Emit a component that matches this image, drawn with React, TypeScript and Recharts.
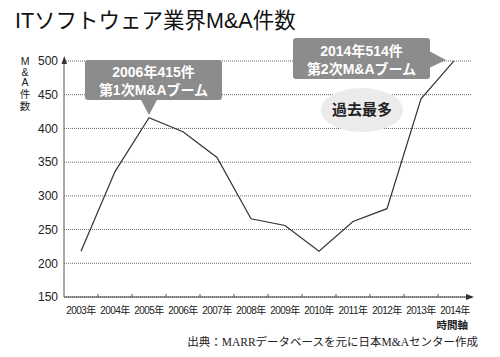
import React from 'react';
import { LineChart, Line, XAxis, YAxis, CartesianGrid } from 'recharts';

const years = ['2003年', '2004年', '2005年', '2006年', '2007年', '2008年', '2009年', '2010年', '2011年', '2012年', '2013年', '2014年'];
const counts = [218, 336, 416, 395, 357, 266, 256, 218, 262, 281, 444, 502];
const yTicks = [150, 200, 250, 300, 350, 400, 450, 500];

const data = years.map((y, i) => ({ year: y, count: counts[i] }));

const SANS = '"Liberation Sans", Arial, "Noto Sans CJK JP", sans-serif';

const XTick = (props: any) => {
  const { x, y, payload, index } = props;
  const off = payload && payload.offset ? payload.offset : 17;
  return (
    <g>
      {index > 0 && <line x1={x - off} x2={x - off} y1={y} y2={y - 3} stroke="#555" strokeWidth={1} />}
      <text x={x} y={y + 17} textAnchor="middle" fontSize={10} letterSpacing={-0.5} fill="#222" fontFamily={SANS}>
        {payload.value}
      </text>
    </g>
  );
};

export default function App() {
  return (
    <div style={{ position: 'absolute', left: 0, top: 0, width: 500, height: 357, background: '#fff' }}>
      <LineChart width={500} height={357} data={data} margin={{ top: 61, right: 28, left: 0, bottom: 0 }}>
        <CartesianGrid vertical={false} stroke="#666" strokeDasharray="1 1" />
        <XAxis
          dataKey="year"
          scale="band"
          height={60}
          tickSize={0}
          tickMargin={0}
          tickLine={false}
          axisLine={{ stroke: '#444', strokeWidth: 1 }}
          tick={<XTick />}
          interval={0}
        />
        <YAxis
          width={64}
          domain={[150, 500]}
          ticks={yTicks}
          allowDataOverflow
          tickSize={0}
          tickMargin={6}
          tickLine={false}
          axisLine={{ stroke: '#555', strokeWidth: 1 }}
          tick={{ fontSize: 12, fill: '#222', fontFamily: SANS }}
        />
        <Line type="linear" dataKey="count" stroke="#333" strokeWidth={1.2} dot={false} isAnimationActive={false} />
      </LineChart>
      <svg width={500} height={357} style={{ position: 'absolute', left: 0, top: 0, pointerEvents: 'none' }}>
        <text x={15} y={28} fontSize={21.5} fill="#111" fontFamily={SANS}>ITソフトウェア業界M&amp;A件数</text>
        {['M', '&', 'A', '件', '数'].map((c, i) => (
          <text key={i} x={25} y={[65, 75.5, 86, 98, 110][i]} fontSize={10.5} fill="#222" textAnchor="middle" fontFamily={SANS}>{c}</text>
        ))}
        <polygon points="61.5,64 64.3,56 67,64" fill="#333" />
        <polygon points="466,294 474,297 466,300" fill="#333" />
        <g>
          <rect x={85} y={60} width={137} height={40} rx={3} fill="#8c8c8c" />
          <polygon points="141,100 157,100 149,115" fill="#8c8c8c" />
          <text x={153.5} y={77} textAnchor="middle" fontSize={14} fontWeight="bold" fill="#fff" fontFamily={SANS}>2006年415件</text>
          <text x={153.5} y={95} textAnchor="middle" fontSize={14} fontWeight="bold" fill="#fff" fontFamily={SANS}>第1次M&amp;Aブーム</text>
        </g>
        <g>
          <rect x={293} y={38} width={137} height={41} rx={3} fill="#8c8c8c" />
          <polygon points="429,51 429,68 446,60" fill="#8c8c8c" />
          <text x={361.5} y={56} textAnchor="middle" fontSize={14} fontWeight="bold" fill="#fff" fontFamily={SANS}>2014年514件</text>
          <text x={361.5} y={74} textAnchor="middle" fontSize={14} fontWeight="bold" fill="#fff" fontFamily={SANS}>第2次M&amp;Aブーム</text>
        </g>
        <ellipse cx={362} cy={110} rx={41} ry={22} fill="#ebebeb" />
        <text x={362} y={115} textAnchor="middle" fontSize={15} fontWeight="bold" fill="#222" fontFamily={SANS}>過去最多</text>
        <text x={468} y={329} textAnchor="end" fontSize={10.5} fontWeight="bold" fill="#222" fontFamily={SANS}>時間軸</text>
        <text x={478} y={346} textAnchor="end" fontSize={11.5} fill="#222" fontFamily={'"Liberation Serif", "Noto Sans CJK JP", serif'}>出典：MARRデータベースを元に日本M&amp;Aセンター作成</text>
      </svg>
    </div>
  );
}
